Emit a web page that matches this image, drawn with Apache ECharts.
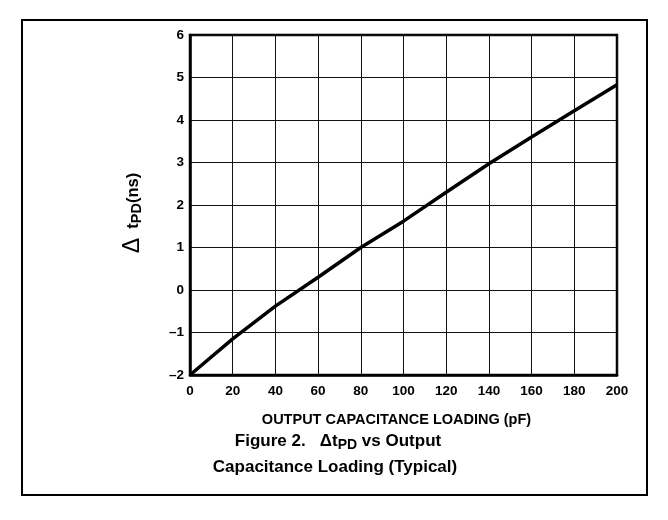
<!DOCTYPE html>
<html><head><meta charset="utf-8">
<script src="https://cdn.jsdelivr.net/npm/echarts@6/dist/echarts.min.js"></script>
<style>html,body{margin:0;padding:0;background:#fff}#c{width:668px;height:520px}</style>
</head><body><div id="c"></div>
<script>
const capacitance = [0, 20, 40, 60, 80, 100, 120, 140, 160, 180, 200];
const deltaTpd = [-2, -1.15, -0.38, 0.3, 1.0, 1.62, 2.3, 2.97, 3.6, 4.22, 4.83];
const xTicks = [0, 200, 20];
const yTicks = [-2, 6, 1];
const F = 'Liberation Sans, Arial, Helvetica, sans-serif';

const chart = echarts.init(document.getElementById('c'), null, {renderer: 'canvas'});
chart.setOption({
  animation: false,
  backgroundColor: '#fff',
  grid: {left: 190, top: 35, width: 427, height: 340, show: true, borderColor: '#000', borderWidth: 2.5, backgroundColor: 'transparent'},
  xAxis: {
    type: 'value', min: xTicks[0], max: xTicks[1], interval: xTicks[2],
    axisLine: {show: true, onZero: false, lineStyle: {color: '#000', width: 2.5}},
    axisTick: {show: false},
    splitLine: {show: true, lineStyle: {color: '#111', width: 1}},
    axisLabel: {color: '#000', fontFamily: F, fontWeight: 'bold', fontSize: 13.5, margin: 9,
      formatter: v => String(v)},
    name: 'OUTPUT CAPACITANCE LOADING (pF)', nameLocation: 'middle', nameGap: 37,
    nameTextStyle: {color: '#000', fontFamily: F, fontWeight: 'bold', fontSize: 14.5, padding: [0, 14, 0, 0]}
  },
  yAxis: {
    type: 'value', min: yTicks[0], max: yTicks[1], interval: yTicks[2],
    axisLine: {show: true, onZero: false, lineStyle: {color: '#000', width: 2.5}},
    axisTick: {show: false},
    splitLine: {show: true, lineStyle: {color: '#111', width: 1}},
    axisLabel: {color: '#000', fontFamily: F, fontWeight: 'bold', fontSize: 13.5, margin: 6,
      formatter: v => v < 0 ? '\u2013' + Math.abs(v) : String(v)}
  },
  graphic: [
    {type: 'rect', shape: {x: 22, y: 20, width: 625, height: 475}, style: {fill: 'none', stroke: '#000', lineWidth: 2}, z: -1},
    {type: 'text', x: 133, y: 213, rotation: Math.PI / 2, style: {
      text: '{d|\u0394}{t|  t}{s|PD}{t|(ns)}', align: 'center', verticalAlign: 'middle',
      rich: {
        d: {fontFamily: F, fontSize: 23, fill: '#000'},
        t: {fontFamily: F, fontSize: 16.5, fontWeight: 'bold', fill: '#000'},
        s: {fontFamily: F, fontSize: 14.5, fontWeight: 'bold', fill: '#000', padding: [7, 0, 0, 0]}
      }}},
    {type: 'text', x: 338, y: 441, style: {
      text: '{b|Figure 2.   \u0394t}{s|PD}{b| vs Output}', align: 'center', verticalAlign: 'middle',
      rich: {
        b: {fontFamily: F, fontSize: 17, fontWeight: 'bold', fill: '#000'},
        s: {fontFamily: F, fontSize: 14, fontWeight: 'bold', fill: '#000', padding: [8, 0, 0, 0]}
      }}},
    {type: 'text', x: 335, y: 467, style: {
      text: 'Capacitance Loading (Typical)', align: 'center', verticalAlign: 'middle',
      fontFamily: F, fontSize: 17, fontWeight: 'bold', fill: '#000'}}
  ],
  series: [{
    type: 'line', data: capacitance.map((c, i) => [c, deltaTpd[i]]),
    showSymbol: false, symbol: 'none',
    lineStyle: {color: '#000', width: 3.5}, z: 5
  }]
});
</script></body></html>
